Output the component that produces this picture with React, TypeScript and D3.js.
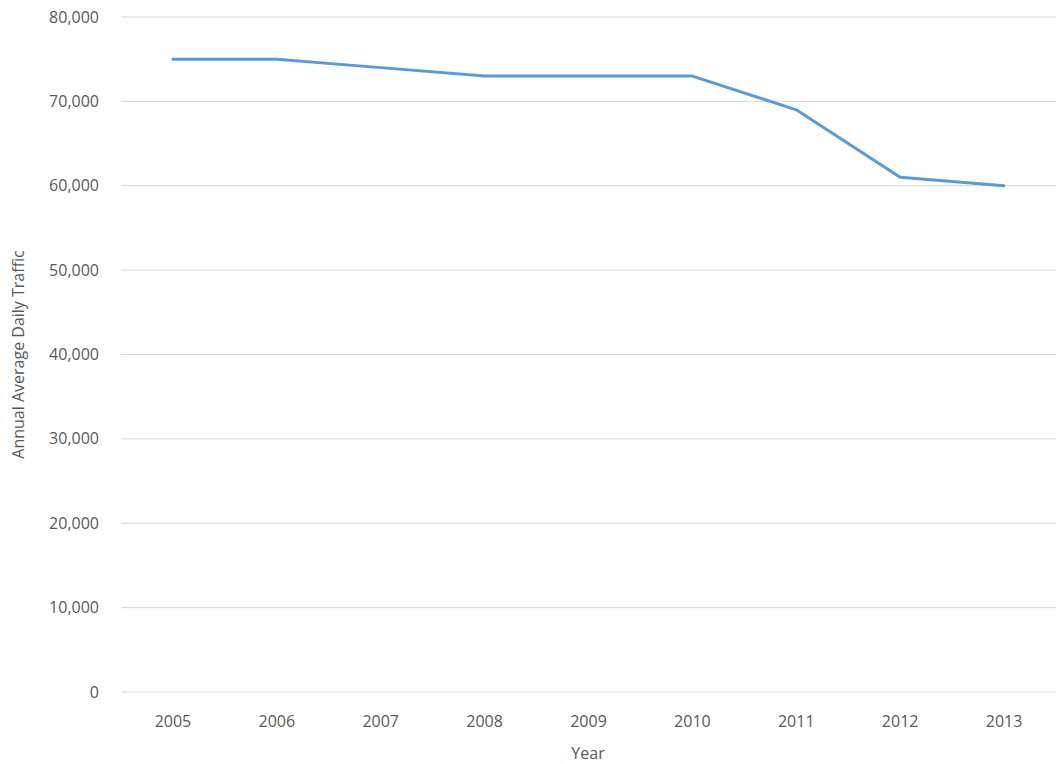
import React from "react";
import * as d3 from "d3";

const years = ["2005", "2006", "2007", "2008", "2009", "2010", "2011", "2012", "2013"];
const traffic = [75000, 75000, 74000, 73000, 73000, 73000, 69000, 61000, 60000];
const yTicks = [0, 10000, 20000, 30000, 40000, 50000, 60000, 70000, 80000];

const width = 1059;
const height = 764;
const margin = { top: 17, right: 3, bottom: 72, left: 121 };

const App: React.FC = () => {
    const x = d3.scaleBand<string>().domain(years).range([margin.left, width - margin.right]);
    const y = d3.scaleLinear().domain([0, 80000]).range([height - margin.bottom, margin.top]);
    const line = d3
        .line<number>()
        .x((_, i) => x(years[i])! + x.bandwidth() / 2)
        .y(d => y(d));
    const fmt = d3.format(",");
    const font = "'Open Sans', sans-serif";

    return (
        <svg
            width={width}
            height={height}
            style={{ position: "absolute", left: 0, top: 0, background: "#fff" }}
            fontFamily={font}
        >
            {yTicks.map(t => (
                <g key={t}>
                    <line x1={margin.left} x2={width - margin.right} y1={y(t)} y2={y(t)} stroke="#d9d9d9" />
                    <text x={99} y={y(t)} dy="0.35em" textAnchor="end" fontSize={16} fill="#595959">
                        {fmt(t)}
                    </text>
                </g>
            ))}
            {years.map(yr => (
                <text key={yr} x={x(yr)! + x.bandwidth() / 2} y={727} textAnchor="middle" fontSize={16} fill="#595959">
                    {yr}
                </text>
            ))}
            <path d={line(traffic)!} fill="none" stroke="#5b9bd5" strokeWidth={3} strokeLinejoin="round" strokeLinecap="round" />
            <text x={588} y={759} textAnchor="middle" fontSize={16} fill="#595959">Year</text>
            <text transform={`translate(24,${(margin.top + height - margin.bottom) / 2}) rotate(-90)`} textAnchor="middle" fontSize={16} fill="#595959">
                Annual Average Daily Traffic
            </text>
        </svg>
    );
};

export default App;
